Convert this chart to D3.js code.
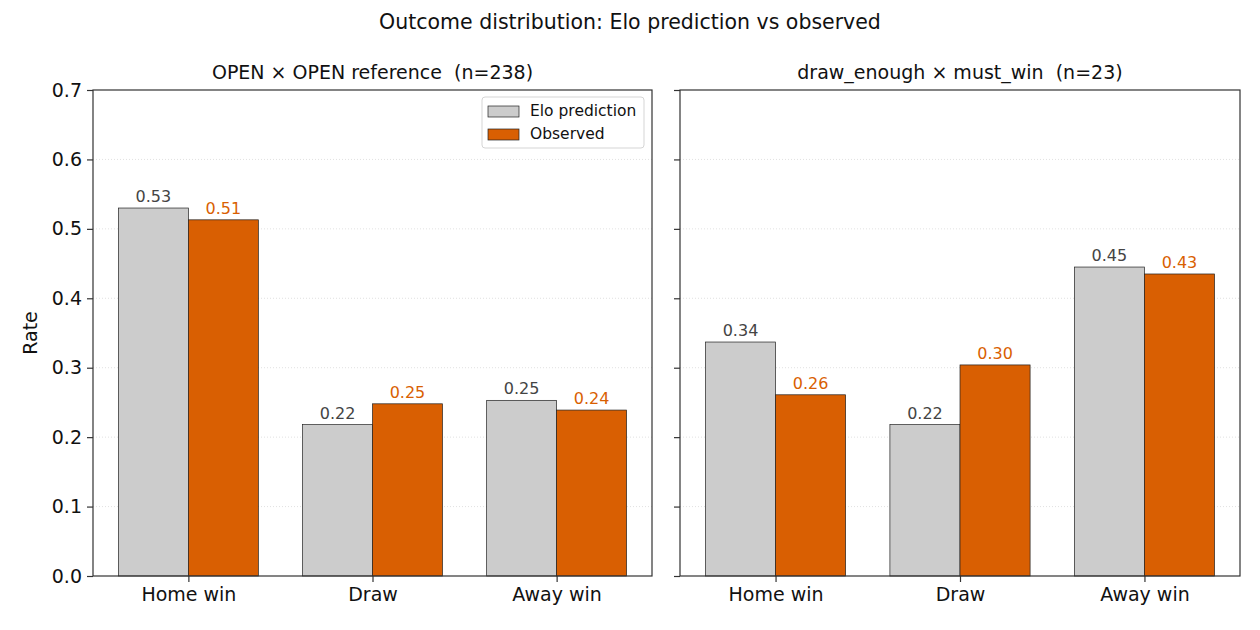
<!DOCTYPE html>
<html>
<head>
<meta charset="utf-8">
<script src="https://cdn.jsdelivr.net/npm/d3@7"></script>
<style>
  body { margin: 0; background: #fff; }
  text { font-family: "DejaVu Sans", sans-serif; fill: #111; white-space: pre; }
</style>
</head>
<body>
<svg id="chart" width="1260" height="630"></svg>
<script>
const categories = ['Home win', 'Draw', 'Away win'];
const seriesNames = ['Elo prediction', 'Observed'];
const panelTitles = ['OPEN × OPEN reference  (n=238)', 'draw_enough × must_win  (n=23)'];
const eloLeft = [0.530, 0.218, 0.253];
const obsLeft = [0.513, 0.248, 0.239];
const eloRight = [0.337, 0.218, 0.445];
const obsRight = [0.261, 0.304, 0.435];
const yTicks = [0, 0.1, 0.2, 0.3, 0.4, 0.5, 0.6, 0.7];

const colors = ['#cccccc', '#d95f02'];
const labelColors = ['#444444', '#d95f02'];

const svg = d3.select('#chart');
const plotTop = 90, plotBottom = 576;
const panels = [
    { x0: 93, x1: 652, elo: eloLeft, obs: obsLeft, title: panelTitles[0], yLabels: true, legend: true },
    { x0: 680, x1: 1240, elo: eloRight, obs: obsRight, title: panelTitles[1], yLabels: false, legend: false }
];

const yScale = d3.scaleLinear().domain([0, 0.7]).range([plotBottom, plotTop]);
const barW = 0.38;

// suptitle
svg.append('text')
    .attr('x', 630).attr('y', 29)
    .attr('text-anchor', 'middle')
    .style('font-size', '20.5px')
    .text('Outcome distribution: Elo prediction vs observed');

panels.forEach(p => {
    const xScale = d3.scaleLinear().domain([-0.518, 2.518]).range([p.x0, p.x1]);
    const g = svg.append('g');

    // grid
    g.selectAll('.grid')
        .data(yTicks.filter(t => t > 0 && t < 0.7))
        .enter().append('line')
        .attr('x1', p.x0).attr('x2', p.x1)
        .attr('y1', d => yScale(d)).attr('y2', d => yScale(d))
        .attr('stroke', '#cccccc').attr('stroke-width', 0.6)
        .attr('stroke-dasharray', '1,2');

    // bars
    [p.elo, p.obs].forEach((vals, s) => {
        g.selectAll('.bar' + s)
            .data(vals)
            .enter().append('rect')
            .attr('x', (d, i) => xScale(i + (s === 0 ? -barW : 0)))
            .attr('y', d => yScale(d))
            .attr('width', xScale(barW) - xScale(0))
            .attr('height', d => plotBottom - yScale(d))
            .attr('fill', colors[s])
            .attr('stroke', '#222').attr('stroke-width', 0.7);

        g.selectAll('.lbl' + s)
            .data(vals)
            .enter().append('text')
            .attr('x', (d, i) => xScale(i + (s === 0 ? -barW / 2 : barW / 2)))
            .attr('y', d => yScale(d) - 6)
            .attr('text-anchor', 'middle')
            .style('font-size', '16px')
            .style('fill', labelColors[s])
            .text(d => d.toFixed(2));
    });

    // axes
    const xAxis = d3.axisBottom(xScale)
        .tickValues([0, 1, 2])
        .tickFormat(i => categories[i])
        .tickSize(6).tickPadding(6);
    const xg = g.append('g').attr('transform', `translate(0,${plotBottom})`).call(xAxis);
    xg.select('.domain').remove();
    xg.selectAll('line').attr('stroke', '#333').attr('stroke-width', 1.2);
    xg.selectAll('text').style('font-size', '19px').attr('fill', '#111');

    const yAxis = d3.axisLeft(yScale)
        .tickValues(yTicks)
        .tickFormat(p.yLabels ? d3.format('.1f') : () => '')
        .tickSize(6).tickPadding(5);
    const yg = g.append('g').attr('transform', `translate(${p.x0},0)`).call(yAxis);
    yg.select('.domain').remove();
    yg.selectAll('line').attr('stroke', '#333').attr('stroke-width', 1.2);
    yg.selectAll('text').style('font-size', '19px').attr('fill', '#111');

    // frame
    g.append('rect')
        .attr('x', p.x0).attr('y', plotTop)
        .attr('width', p.x1 - p.x0).attr('height', plotBottom - plotTop)
        .attr('fill', 'none').attr('stroke', '#333').attr('stroke-width', 1.2);

    // panel title
    g.append('text')
        .attr('x', (p.x0 + p.x1) / 2).attr('y', 79)
        .attr('text-anchor', 'middle')
        .style('font-size', '19px')
        .text(p.title);

    if (p.legend) {
        const lg = g.append('g').attr('transform', 'translate(482,97)');
        lg.append('rect')
            .attr('width', 162).attr('height', 51).attr('rx', 3)
            .attr('fill', 'white').attr('fill-opacity', 0.8)
            .attr('stroke', '#d5d5d5').attr('stroke-width', 1);
        seriesNames.forEach((name, i) => {
            lg.append('rect')
                .attr('x', 6).attr('y', 9 + i * 23)
                .attr('width', 31).attr('height', 11)
                .attr('fill', colors[i]).attr('stroke', '#222').attr('stroke-width', 0.7);
            lg.append('text')
                .attr('x', 48).attr('y', 19 + i * 23)
                .style('font-size', '15.5px')
                .text(name);
        });
    }
});

// y label
svg.append('text')
    .attr('transform', 'translate(37,333) rotate(-90)')
    .attr('text-anchor', 'middle')
    .style('font-size', '19px')
    .text('Rate');
</script>
</body>
</html>
